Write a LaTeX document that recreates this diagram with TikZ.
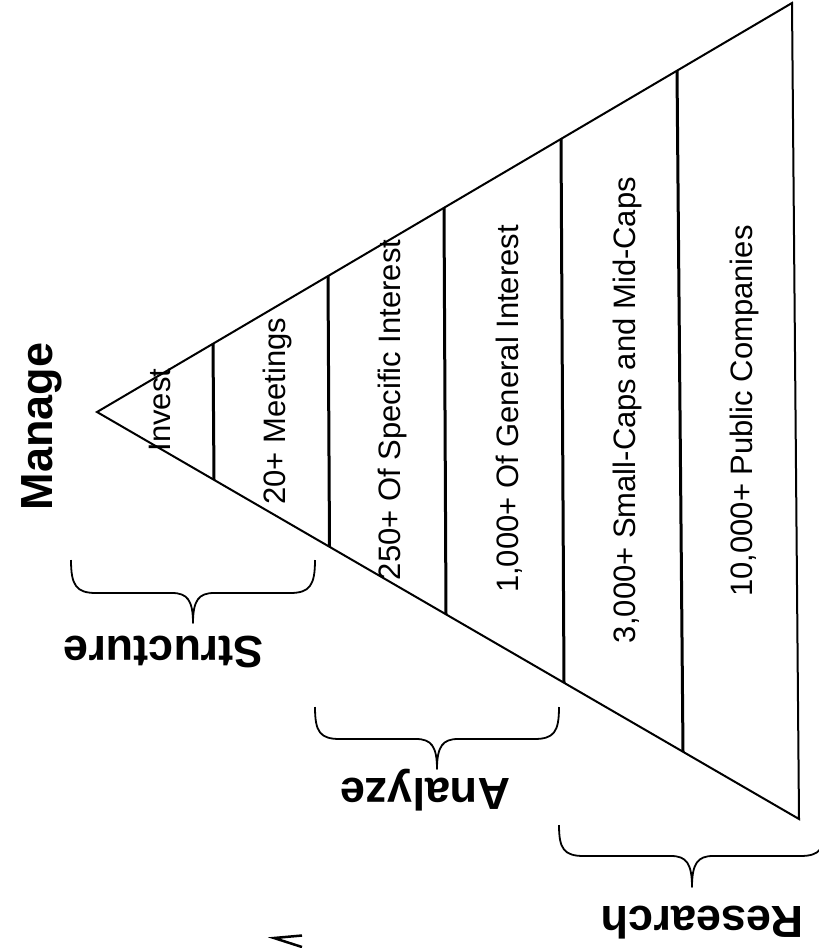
\documentclass[tikz,border=0pt]{standalone}
\usepackage{fontspec}
\setmainfont{Liberation Sans}
\begin{document}
\begin{tikzpicture}[x=1pt,y=-1pt,
  edge/.style={line width=2pt, line join=miter},
  divider/.style={line width=3pt},
  brace/.style={line width=1.8pt, line join=round},
  lbl/.style={rotate=90, anchor=base, inner sep=0pt, font=\fontsize{31}{31}\selectfont},
  biglbl/.style={anchor=base, inner sep=0pt, font=\fontsize{45}{45}\selectfont\bfseries}]
\useasboundingbox (0,0) rectangle (819,948);
\clip (0,0) rectangle (819,948);
% triangle
\coordinate (apex) at (97,412);
\coordinate (tr) at (792,3);
\coordinate (br) at (799,819);
\draw[edge] (apex) -- (tr) -- (br) -- cycle;
% dividers
\coordinate (d1t) at (213,343.7);  \coordinate (d1b) at (214,479.8);
\coordinate (d2t) at (328,276.1);  \coordinate (d2b) at (329.5,546.8);
\coordinate (d3t) at (444,207.8);  \coordinate (d3b) at (446,614.4);
\coordinate (d4t) at (561,138.9);  \coordinate (d4b) at (564,682.8);
\coordinate (d5t) at (677,70.7);   \coordinate (d5b) at (683,751.8);
\foreach \n in {1,...,5} {\draw[divider] (d\n t) -- (d\n b);}
% section labels
\node[lbl] (invest) at (170,410) {Invest};
\node[lbl] (meet) at (285,411) {20+ Meetings};
\node[lbl] (spec) at (400,410) {250+ Of Specific Interest};
\node[lbl] (gen) at (518,409) {1,000+ Of General Interest};
\node[lbl] (small) at (635,410) {3,000+ Small-Caps and Mid-Caps};
\node[lbl] (pub) at (752,411) {10,000+ Public Companies};
% big labels
\node[biglbl, rotate=90] (manage) at (52,426.5) {Manage};
\node[biglbl, rotate=180] (structure) at (163.5,636) {Structure};
\node[biglbl, rotate=180] (analyze) at (425,778) {Analyze};
\node[biglbl, rotate=180] (research) at (702.5,906) {Research};
% braces
\draw[brace] (71,560) .. controls (71,585) and (76,593) .. (96,593) -- (172,593)
  .. controls (187,593) and (193,600) .. (193,623)
  .. controls (193,600) and (199,593) .. (214,593) -- (290,593)
  .. controls (310,593) and (315,585) .. (315,560);
\draw[brace] (315,707) .. controls (315,732) and (320,739) .. (340,739) -- (416,739)
  .. controls (431,739) and (437,746) .. (437,769)
  .. controls (437,746) and (443,739) .. (458,739) -- (534,739)
  .. controls (554,739) and (559,732) .. (559,707);
\draw[brace] (559,825) .. controls (559,849) and (564,856) .. (584,856) -- (671,856)
  .. controls (686,856) and (692,863) .. (692,887)
  .. controls (692,863) and (698,856) .. (713,856) -- (800,856)
  .. controls (820,856) and (825,849) .. (825,825);
% stray mark at bottom edge
\draw[line width=2.5pt] (302,935.5) -- (274,938) -- (302,947);
\end{tikzpicture}
\end{document}
